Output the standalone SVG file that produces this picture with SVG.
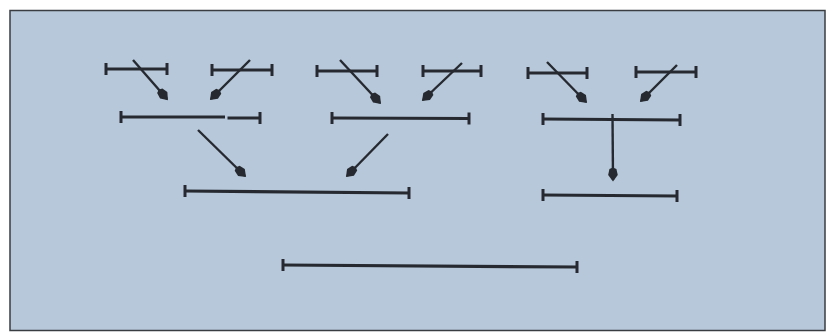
<svg xmlns="http://www.w3.org/2000/svg" width="831" height="333" viewBox="0 0 831 333">
<defs>
<style>
.seg{stroke:#262a30;stroke-width:3.2;fill:none;stroke-linecap:butt}
.tick{stroke:#262a30;stroke-width:3;fill:none}
.arr{stroke:#262a30;stroke-width:2.4;fill:none;marker-end:url(#head)}
</style>
<marker id="head" markerUnits="userSpaceOnUse" markerWidth="18" markerHeight="14" viewBox="-15 -7 17 14" refX="0" refY="0" orient="auto">
<path d="M1.5,0 L-5,-4.8 L-11,-3.5 L-12.5,0 L-11,3.5 L-5,4.8 Z" fill="#262a30"/>
</marker>
</defs>
<rect x="0" y="0" width="831" height="333" fill="#ffffff"/>
<rect x="10" y="10.5" width="815" height="320" fill="#b7c8da" stroke="#3a3d42" stroke-width="1.5"/>
<g id="s1"><path class="seg" d="M106,69 L167,69"/><path class="tick" d="M106,63 V75 M167,63 V75"/></g>
<g id="s2"><path class="seg" d="M212,70 L272,70"/><path class="tick" d="M212,64 V76 M272,64 V76"/></g>
<g id="s3"><path class="seg" d="M317,71 L377,71"/><path class="tick" d="M317,65 V77 M377,65 V77"/></g>
<g id="s4"><path class="seg" d="M423,71 L481,71"/><path class="tick" d="M423,65 V77 M481,65 V77"/></g>
<g id="s5"><path class="seg" d="M528,73 L587,73"/><path class="tick" d="M528,67 V79 M587,67 V79"/></g>
<g id="s6"><path class="seg" d="M636,72 L696,72"/><path class="tick" d="M636,66 V78 M696,66 V78"/></g>
<g id="s7"><path class="seg" d="M121,117 L225,117 M227.5,118 L260,118"/><path class="tick" d="M121,111 V123 M260,112 V124"/></g>
<g id="s8"><path class="seg" d="M332,118 L469,118.5"/><path class="tick" d="M332,112 V124 M469,112.5 V124.5"/></g>
<g id="s9"><path class="seg" d="M543,119 L680,120"/><path class="tick" d="M543,113 V125 M680,114 V126"/></g>
<g id="s10"><path class="seg" d="M185,191 L409,193"/><path class="tick" d="M185,185 V197 M409,187 V199"/></g>
<g id="s11"><path class="seg" d="M543,195 L677,196"/><path class="tick" d="M543,189 V201 M677,190 V202"/></g>
<g id="s12"><path class="seg" d="M283,265 L577,267"/><path class="tick" d="M283,259 V271 M577,261 V273"/></g>
<g id="connectors">
<path class="arr" d="M133,60 L167,99"/>
<path class="arr" d="M250,60 L211,99"/>
<path class="arr" d="M340,60 L380,103"/>
<path class="arr" d="M462,63 L423,100"/>
<path class="arr" d="M547,62 L586,102"/>
<path class="arr" d="M677,65 L641,101"/>
<path class="arr" d="M198,130 L245,176"/>
<path class="arr" d="M388,134 L347,176"/>
<path class="arr" d="M612.5,114 L613,180"/>
</g>
</svg>
